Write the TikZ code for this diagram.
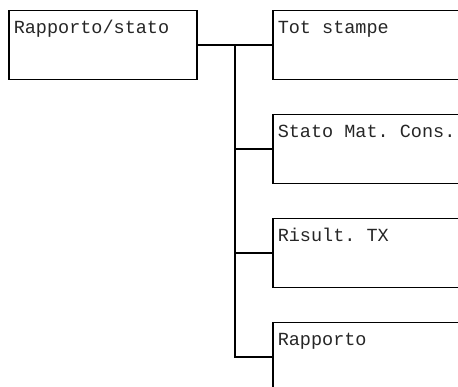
\documentclass[tikz,border=0pt]{standalone}
\usepackage{fontspec}
\setmonofont{Liberation Mono}
\usetikzlibrary{positioning}
\frenchspacing
\begin{document}
\begin{tikzpicture}[x=1pt,y=-1pt,line width=1.5pt,node distance=104pt]
    \tikzstyle{menu}=[rectangle, draw, text=black!85, text width=178pt, inner xsep=5pt, inner ysep=5pt, text height=18pt, text depth=41pt, font=\ttfamily\fontsize{18.5}{20}\selectfont, execute at begin node={\spaceskip=0.6em\relax}]

    \useasboundingbox (0,0) rectangle (458,387);

    \node[menu, anchor=north west] (main) at (8,10) {Rapporto/stato};
    \node[menu, anchor=north west] (tot) at (272,10) {Tot stampe};
    \node[menu]     (stato) [below of=tot] {Stato Mat. Cons.};
    \node[menu]    (risult) [below of=stato] {Risult. TX};
    \node[menu]  (rapporto) [below of=risult] {Rapporto};

    \coordinate (fork) at ([xshift=-37pt]tot.west);

    \draw (main.east) -- (tot.west);
    \draw (fork) |- (stato.west);
    \draw (fork) |- (risult.west);
    \draw (fork) |- (rapporto.west);

\end{tikzpicture}
\end{document}
